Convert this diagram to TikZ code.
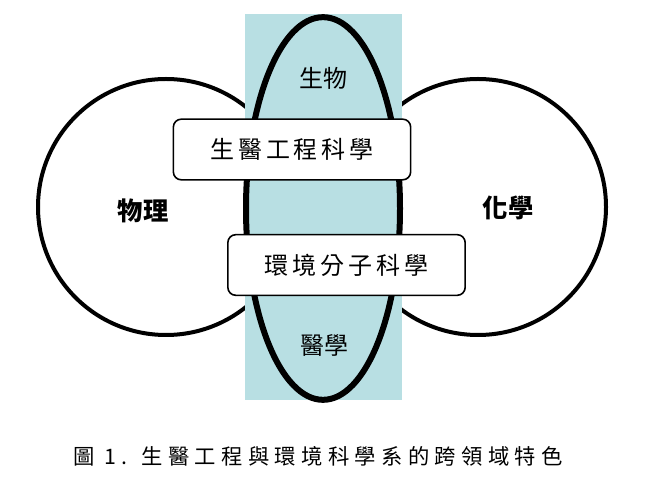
\documentclass[tikz,border=0pt]{standalone}
\usepackage{fontspec}
\usetikzlibrary{shapes.geometric}
\newfontfamily\cjk{Noto Sans CJK TC}
\newfontfamily\cjkwide[LetterSpace=16]{Noto Sans CJK TC}
\newfontfamily\cjkcaption[LetterSpace=25]{Noto Sans CJK TC}
\definecolor{aqua}{RGB}{184,223,227}
\tikzset{
  field/.style={circle, draw, fill=white, line width=3pt, minimum size=192pt, inner sep=0pt},
  fieldlabel/.style={font=\cjk\bfseries\fontsize{19}{22}\selectfont, inner sep=0pt},
  corelabel/.style={font=\cjk\fontsize{18}{21}\selectfont, inner sep=0pt},
  majorbox/.style={draw, fill=white, rounded corners=6pt, line width=1.2pt,
    minimum height=45.5pt, minimum width=178pt, inner sep=0pt,
    font=\cjkwide\fontsize{18}{21}\selectfont}
}
\begin{document}
\begin{tikzpicture}[x=0.75pt,y=-0.75pt]
  \useasboundingbox (0,0) rectangle (653,484);

  % Drawing circle physics
  \node[field] (phys) at (166,207) {};
  % Drawing circle chemistry
  \node[field] (chem) at (478,207) {};

  % Drawing band
  \node[rectangle, fill=aqua, minimum width=117.75pt, minimum height=289.5pt,
    inner sep=0pt] (band) at (323.5,207) {};

  % Drawing ellipse biology medicine
  \node[ellipse, draw, fill=aqua, line width=4.5pt, minimum width=115.5pt,
    minimum height=287pt, inner sep=0pt] (core) at (323,208.5) {};

  % Marking fields
  \node[fieldlabel] (physlabel) at (143,211) {物理};
  \node[fieldlabel] (chemlabel) at (508,208) {化學};
  \node[corelabel] (biolabel) at (323,78) {生物};
  \node[corelabel] (medlabel) at (324,345) {醫學};

  % Drawing boxes
  \node[majorbox] (bme) at (292,149.5) {生醫工程科學};
  \node[majorbox] (env) at (346.5,265) {環境分子科學};

  % Marking caption
  \node[font=\cjkcaption\fontsize{16}{19}\selectfont, inner sep=0pt] (caption)
    at (318,456) {圖 1. 生醫工程與環境科學系的跨領域特色};
\end{tikzpicture}
\end{document}
